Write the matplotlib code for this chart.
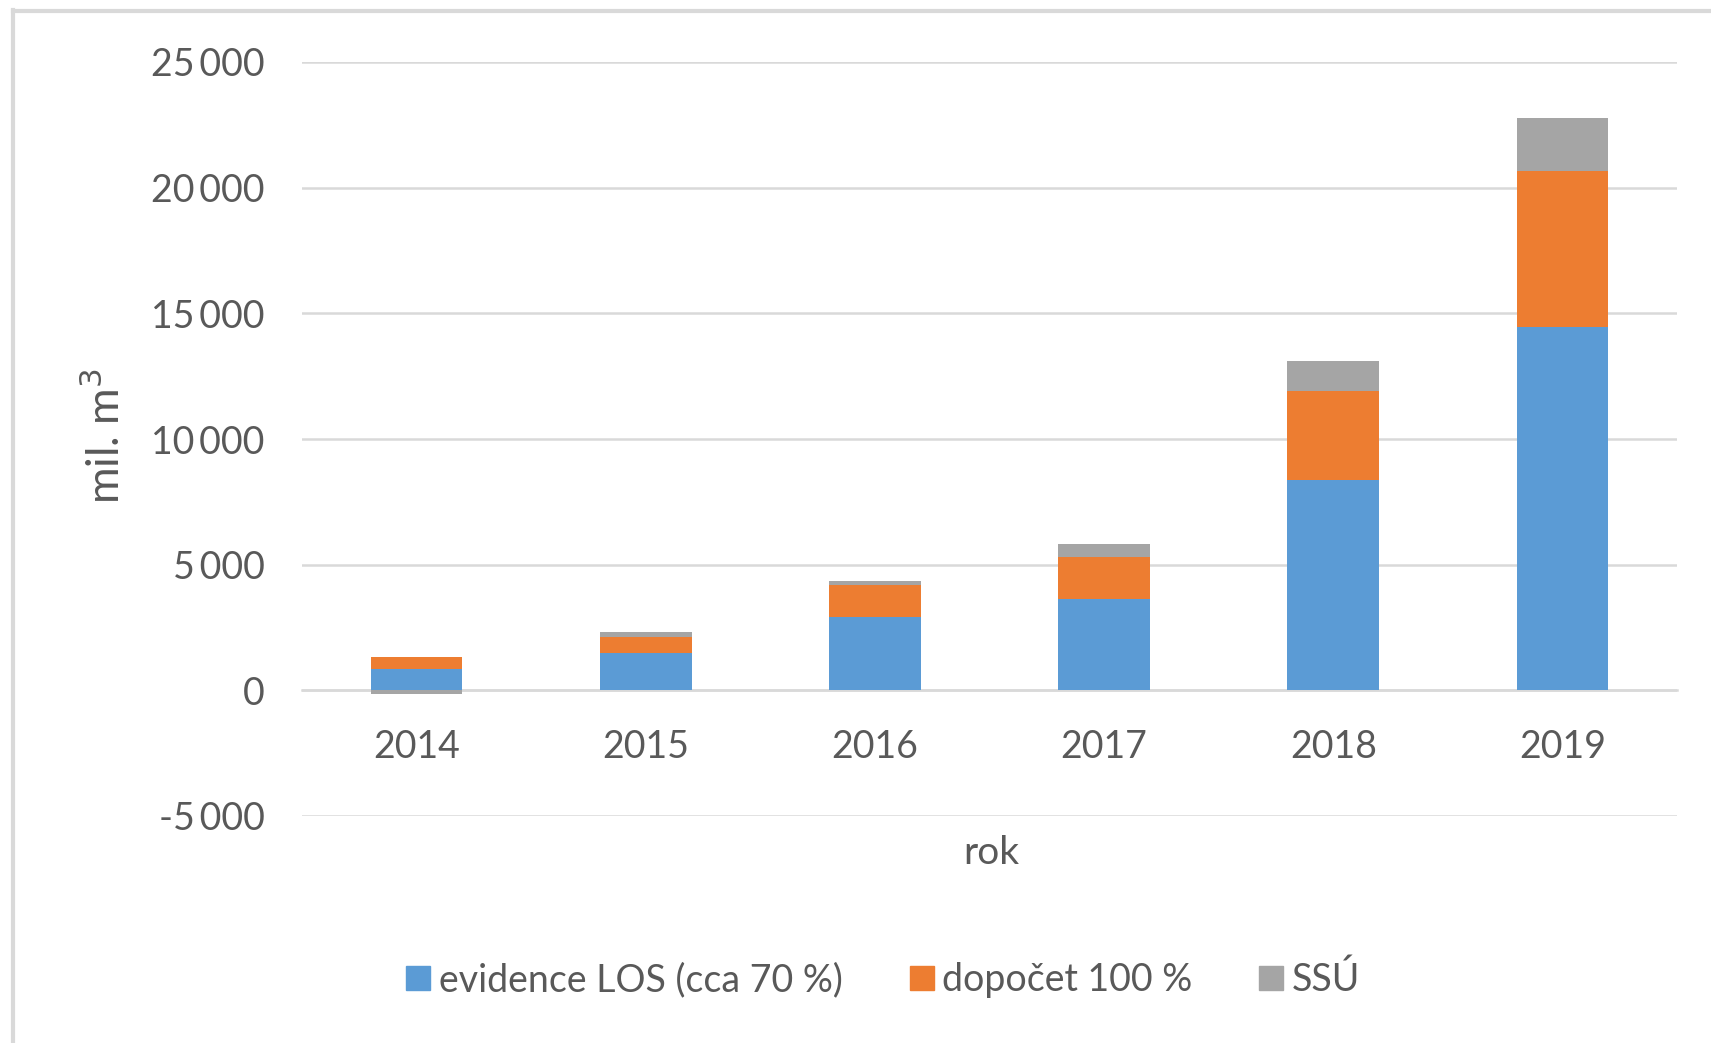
import numpy as np
import matplotlib
matplotlib.use("Agg")
import matplotlib.pyplot as plt
from matplotlib.lines import Line2D

plt.rcParams['font.family'] = ['Lato', 'DejaVu Sans']

# data (mil. m3)
years = ['2014', '2015', '2016', '2017', '2018', '2019']
evidence_los = [860, 1500, 2920, 3650, 8350, 14460]
dopocet = [450, 640, 1270, 1640, 3560, 6220]
ssu = [-130, 200, 170, 530, 1180, 2100]
series_names = ['evidence LOS (cca 70 %)', 'dopočet 100 %', 'SSÚ']
colors = ['#5B9BD5', '#ED7D31', '#A5A5A5']
y_ticks = [-5000, 0, 5000, 10000, 15000, 20000, 25000]

TXT = '#595959'
GRID = '#D9D9D9'

fig = plt.figure(figsize=(17.11, 10.43), dpi=100)
ax = fig.add_axes([302 / 1711, 1 - 816 / 1043, 1375 / 1711, 754 / 1043])

x = np.arange(len(years))
pos_base = np.zeros(len(years))
neg_base = np.zeros(len(years))
handles = []
for vals, name, col in zip([evidence_los, dopocet, ssu], series_names, colors):
    vals = np.array(vals, dtype=float)
    # negative values stack downward from zero, like Excel does
    bottom = np.where(vals >= 0, pos_base, neg_base)
    ax.bar(x, vals, width=0.4, bottom=bottom, color=col, zorder=3)
    pos_base += np.where(vals >= 0, vals, 0)
    neg_base += np.where(vals < 0, vals, 0)
    handles.append(Line2D([], [], marker='s', linestyle='none', markersize=17,
                          markerfacecolor=col, markeredgecolor=col, label=name))

ax.set_xlim(-0.5, len(years) - 0.5)
ax.set_ylim(-5000, 25000)
ax.set_yticks(y_ticks)
ax.set_yticklabels([format(v, ',').replace(',', '\u2009') for v in y_ticks])
ax.set_xticks(x)
ax.set_xticklabels(years)
ax.grid(axis='y', color=GRID, linewidth=1.8, zorder=0)
for s in ['top', 'right', 'left']:
    ax.spines[s].set_visible(False)
ax.spines['bottom'].set_position(('data', 0))
ax.spines['bottom'].set_color(GRID)
ax.spines['bottom'].set_linewidth(1.8)
ax.spines['bottom'].set_zorder(1)
ax.tick_params(axis='y', length=0, pad=27, labelsize=27, labelcolor=TXT)
ax.tick_params(axis='x', length=0, pad=28, labelsize=27, labelcolor=TXT)

fig.text(991 / 1711, 1 - 853 / 1043, 'rok', ha='center', va='center',
         fontsize=28, color=TXT)
fig.text(106 / 1711, 1 - 436 / 1043, 'mil. m$^3$', ha='center', va='center',
         rotation=90, fontsize=32, color=TXT)

fig.legend(handles=handles, loc='center', bbox_to_anchor=(880 / 1711, 1 - 980 / 1043),
           ncol=3, frameon=False, fontsize=27, labelcolor=TXT,
           handletextpad=0.05, columnspacing=1.6, handlelength=1.0)

# chart-area frame (cut off at right and bottom in the reference)
fig.add_artist(Line2D([13 / 1711, 13 / 1711], [0, 1 - 10 / 1043],
                      transform=fig.transFigure, color=GRID, linewidth=3))
fig.add_artist(Line2D([13 / 1711, 1], [1 - 11 / 1043, 1 - 11 / 1043],
                      transform=fig.transFigure, color=GRID, linewidth=3))

fig.savefig('out.png', dpi=100)
